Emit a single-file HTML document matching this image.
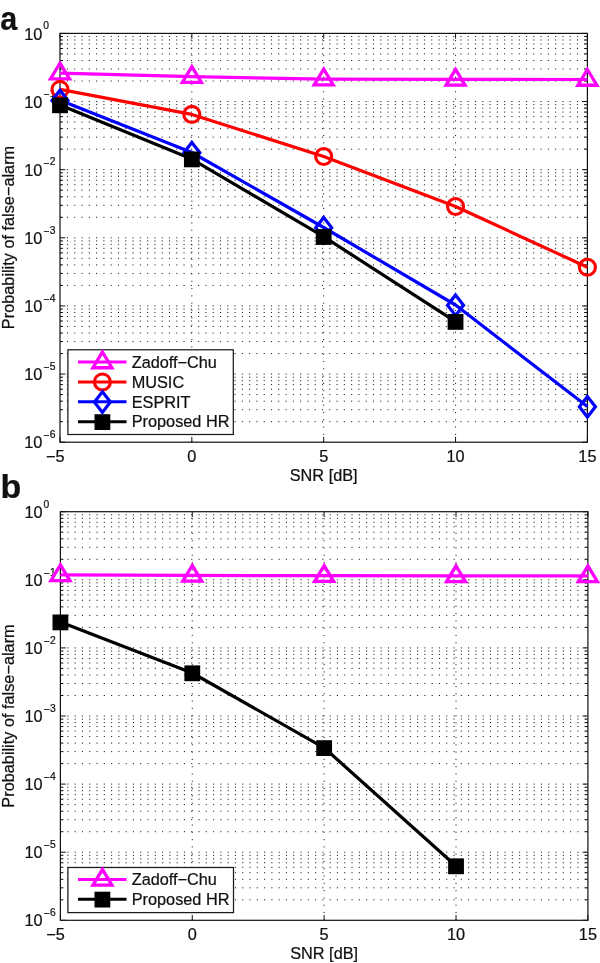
<!DOCTYPE html>
<html><head><meta charset="utf-8"><style>
html,body{margin:0;padding:0;background:#fff;}
svg{display:block;will-change:transform;}
text{font-family:"Liberation Sans", sans-serif;fill:#111;stroke:#111;stroke-width:0.22px;}
</style></head><body>
<svg width="600" height="963" viewBox="0 0 600 963">
<rect width="600" height="963" fill="#fff"/>
<text transform="translate(0.3 29.5) scale(0.9 1)" font-size="34" font-weight="bold">a</text>
<text x="0.5" y="497.8" font-size="34" font-weight="bold">b</text>
<rect x="60" y="33.4" width="527.4" height="408.8" fill="#fff"/>
<g stroke="#1a1a1a" stroke-width="1" stroke-dasharray="1.1 6.186" stroke-dashoffset="0.35"><line x1="60" y1="101.53" x2="587.4" y2="101.53"/>
<line x1="60" y1="81.02" x2="587.4" y2="81.02"/>
<line x1="60" y1="69.03" x2="587.4" y2="69.03"/>
<line x1="60" y1="60.51" x2="587.4" y2="60.51"/>
<line x1="60" y1="53.91" x2="587.4" y2="53.91"/>
<line x1="60" y1="48.52" x2="587.4" y2="48.52"/>
<line x1="60" y1="43.95" x2="587.4" y2="43.95"/>
<line x1="60" y1="40.00" x2="587.4" y2="40.00"/>
<line x1="60" y1="36.52" x2="587.4" y2="36.52"/>
<line x1="60" y1="169.67" x2="587.4" y2="169.67"/>
<line x1="60" y1="149.16" x2="587.4" y2="149.16"/>
<line x1="60" y1="137.16" x2="587.4" y2="137.16"/>
<line x1="60" y1="128.65" x2="587.4" y2="128.65"/>
<line x1="60" y1="122.04" x2="587.4" y2="122.04"/>
<line x1="60" y1="116.65" x2="587.4" y2="116.65"/>
<line x1="60" y1="112.09" x2="587.4" y2="112.09"/>
<line x1="60" y1="108.14" x2="587.4" y2="108.14"/>
<line x1="60" y1="104.65" x2="587.4" y2="104.65"/>
<line x1="60" y1="237.80" x2="587.4" y2="237.80"/>
<line x1="60" y1="217.29" x2="587.4" y2="217.29"/>
<line x1="60" y1="205.29" x2="587.4" y2="205.29"/>
<line x1="60" y1="196.78" x2="587.4" y2="196.78"/>
<line x1="60" y1="190.18" x2="587.4" y2="190.18"/>
<line x1="60" y1="184.78" x2="587.4" y2="184.78"/>
<line x1="60" y1="180.22" x2="587.4" y2="180.22"/>
<line x1="60" y1="176.27" x2="587.4" y2="176.27"/>
<line x1="60" y1="172.78" x2="587.4" y2="172.78"/>
<line x1="60" y1="305.93" x2="587.4" y2="305.93"/>
<line x1="60" y1="285.42" x2="587.4" y2="285.42"/>
<line x1="60" y1="273.43" x2="587.4" y2="273.43"/>
<line x1="60" y1="264.91" x2="587.4" y2="264.91"/>
<line x1="60" y1="258.31" x2="587.4" y2="258.31"/>
<line x1="60" y1="252.92" x2="587.4" y2="252.92"/>
<line x1="60" y1="248.35" x2="587.4" y2="248.35"/>
<line x1="60" y1="244.40" x2="587.4" y2="244.40"/>
<line x1="60" y1="240.92" x2="587.4" y2="240.92"/>
<line x1="60" y1="374.07" x2="587.4" y2="374.07"/>
<line x1="60" y1="353.56" x2="587.4" y2="353.56"/>
<line x1="60" y1="341.56" x2="587.4" y2="341.56"/>
<line x1="60" y1="333.05" x2="587.4" y2="333.05"/>
<line x1="60" y1="326.44" x2="587.4" y2="326.44"/>
<line x1="60" y1="321.05" x2="587.4" y2="321.05"/>
<line x1="60" y1="316.49" x2="587.4" y2="316.49"/>
<line x1="60" y1="312.54" x2="587.4" y2="312.54"/>
<line x1="60" y1="309.05" x2="587.4" y2="309.05"/>
<line x1="60" y1="421.69" x2="587.4" y2="421.69"/>
<line x1="60" y1="409.69" x2="587.4" y2="409.69"/>
<line x1="60" y1="401.18" x2="587.4" y2="401.18"/>
<line x1="60" y1="394.58" x2="587.4" y2="394.58"/>
<line x1="60" y1="389.18" x2="587.4" y2="389.18"/>
<line x1="60" y1="384.62" x2="587.4" y2="384.62"/>
<line x1="60" y1="380.67" x2="587.4" y2="380.67"/>
<line x1="60" y1="377.18" x2="587.4" y2="377.18"/></g>
<g stroke="#1a1a1a" stroke-width="1" stroke-dasharray="1.1 6.19" stroke-dashoffset="0.05"><line x1="191.85" y1="442.2" x2="191.85" y2="33.4"/><line x1="323.70" y1="442.2" x2="323.70" y2="33.4"/><line x1="455.55" y1="442.2" x2="455.55" y2="33.4"/></g>
<path d="M60 33.40h5.3M587.4 33.40h-5.3M60 81.02h3M587.4 81.02h-3M60 69.03h3M587.4 69.03h-3M60 60.51h3M587.4 60.51h-3M60 53.91h3M587.4 53.91h-3M60 48.52h3M587.4 48.52h-3M60 43.95h3M587.4 43.95h-3M60 40.00h3M587.4 40.00h-3M60 36.52h3M587.4 36.52h-3M60 101.53h5.3M587.4 101.53h-5.3M60 149.16h3M587.4 149.16h-3M60 137.16h3M587.4 137.16h-3M60 128.65h3M587.4 128.65h-3M60 122.04h3M587.4 122.04h-3M60 116.65h3M587.4 116.65h-3M60 112.09h3M587.4 112.09h-3M60 108.14h3M587.4 108.14h-3M60 104.65h3M587.4 104.65h-3M60 169.67h5.3M587.4 169.67h-5.3M60 217.29h3M587.4 217.29h-3M60 205.29h3M587.4 205.29h-3M60 196.78h3M587.4 196.78h-3M60 190.18h3M587.4 190.18h-3M60 184.78h3M587.4 184.78h-3M60 180.22h3M587.4 180.22h-3M60 176.27h3M587.4 176.27h-3M60 172.78h3M587.4 172.78h-3M60 237.80h5.3M587.4 237.80h-5.3M60 285.42h3M587.4 285.42h-3M60 273.43h3M587.4 273.43h-3M60 264.91h3M587.4 264.91h-3M60 258.31h3M587.4 258.31h-3M60 252.92h3M587.4 252.92h-3M60 248.35h3M587.4 248.35h-3M60 244.40h3M587.4 244.40h-3M60 240.92h3M587.4 240.92h-3M60 305.93h5.3M587.4 305.93h-5.3M60 353.56h3M587.4 353.56h-3M60 341.56h3M587.4 341.56h-3M60 333.05h3M587.4 333.05h-3M60 326.44h3M587.4 326.44h-3M60 321.05h3M587.4 321.05h-3M60 316.49h3M587.4 316.49h-3M60 312.54h3M587.4 312.54h-3M60 309.05h3M587.4 309.05h-3M60 374.07h5.3M587.4 374.07h-5.3M60 421.69h3M587.4 421.69h-3M60 409.69h3M587.4 409.69h-3M60 401.18h3M587.4 401.18h-3M60 394.58h3M587.4 394.58h-3M60 389.18h3M587.4 389.18h-3M60 384.62h3M587.4 384.62h-3M60 380.67h3M587.4 380.67h-3M60 377.18h3M587.4 377.18h-3M60 442.20h5.3M587.4 442.20h-5.3M60.00 442.2v-5.3M60.00 33.4v5.3M191.85 442.2v-5.3M191.85 33.4v5.3M323.70 442.2v-5.3M323.70 33.4v5.3M455.55 442.2v-5.3M455.55 33.4v5.3M587.40 442.2v-5.3M587.40 33.4v5.3" stroke="#111" stroke-width="1" fill="none"/>
<rect x="60" y="33.4" width="527.4" height="408.8" fill="none" stroke="#111" stroke-width="1.2"/>
<text x="42.3" y="39.50" text-anchor="end" font-size="16.3">10</text>
<text x="43.3" y="29.20" font-size="10.3">0</text>
<text x="42.3" y="107.63" text-anchor="end" font-size="16.3">10</text>
<text x="43.3" y="97.33" font-size="10.3"><tspan dy="1.1">−</tspan><tspan dx="0.5" dy="-1.1">1</tspan></text>
<text x="42.3" y="175.77" text-anchor="end" font-size="16.3">10</text>
<text x="43.3" y="165.47" font-size="10.3"><tspan dy="1.1">−</tspan><tspan dx="0.5" dy="-1.1">2</tspan></text>
<text x="42.3" y="243.90" text-anchor="end" font-size="16.3">10</text>
<text x="43.3" y="233.60" font-size="10.3"><tspan dy="1.1">−</tspan><tspan dx="0.5" dy="-1.1">3</tspan></text>
<text x="42.3" y="312.03" text-anchor="end" font-size="16.3">10</text>
<text x="43.3" y="301.73" font-size="10.3"><tspan dy="1.1">−</tspan><tspan dx="0.5" dy="-1.1">4</tspan></text>
<text x="42.3" y="380.17" text-anchor="end" font-size="16.3">10</text>
<text x="43.3" y="369.87" font-size="10.3"><tspan dy="1.1">−</tspan><tspan dx="0.5" dy="-1.1">5</tspan></text>
<text x="42.3" y="448.30" text-anchor="end" font-size="16.3">10</text>
<text x="43.3" y="438.00" font-size="10.3"><tspan dy="1.1">−</tspan><tspan dx="0.5" dy="-1.1">6</tspan></text>
<text x="55.20" y="461.50" text-anchor="middle" font-size="16.3">−5</text>
<text x="191.85" y="461.50" text-anchor="middle" font-size="16.3">0</text>
<text x="323.70" y="461.50" text-anchor="middle" font-size="16.3">5</text>
<text x="455.55" y="461.50" text-anchor="middle" font-size="16.3">10</text>
<text x="587.40" y="461.50" text-anchor="middle" font-size="16.3">15</text>
<text x="323.70" y="481.00" text-anchor="middle" font-size="16.3">SNR [dB]</text>
<text transform="translate(13.8 237.50) rotate(-90)" text-anchor="middle" font-size="16.3">Probability of false−alarm</text>
<path d="M60.00 73.20 L191.85 76.70 L323.70 79.20 L455.55 79.40 L587.40 79.50" stroke="#ff00ff" stroke-width="3.2" fill="none" stroke-linejoin="round"/>
<path d="M60.00 63.20L69.50 78.95L50.50 78.95Z" fill="none" stroke="#ff00ff" stroke-width="3.3" stroke-linejoin="miter"/>
<path d="M191.85 66.70L201.35 82.45L182.35 82.45Z" fill="none" stroke="#ff00ff" stroke-width="3.3" stroke-linejoin="miter"/>
<path d="M323.70 69.20L333.20 84.95L314.20 84.95Z" fill="none" stroke="#ff00ff" stroke-width="3.3" stroke-linejoin="miter"/>
<path d="M455.55 69.40L465.05 85.15L446.05 85.15Z" fill="none" stroke="#ff00ff" stroke-width="3.3" stroke-linejoin="miter"/>
<path d="M587.40 69.50L596.90 85.25L577.90 85.25Z" fill="none" stroke="#ff00ff" stroke-width="3.3" stroke-linejoin="miter"/>
<path d="M60.00 89.40 L191.85 114.40 L323.70 156.50 L455.55 206.50 L587.40 267.20" stroke="#ff0000" stroke-width="3.2" fill="none" stroke-linejoin="round"/>
<circle cx="60.00" cy="89.40" r="8" fill="none" stroke="#ff0000" stroke-width="3.1"/>
<circle cx="191.85" cy="114.40" r="8" fill="none" stroke="#ff0000" stroke-width="3.1"/>
<circle cx="323.70" cy="156.50" r="8" fill="none" stroke="#ff0000" stroke-width="3.1"/>
<circle cx="455.55" cy="206.50" r="8" fill="none" stroke="#ff0000" stroke-width="3.1"/>
<circle cx="587.40" cy="267.20" r="8" fill="none" stroke="#ff0000" stroke-width="3.1"/>
<path d="M60.00 100.30 L191.85 152.50 L323.70 227.50 L455.55 305.00 L587.40 406.60" stroke="#0000ff" stroke-width="3.2" fill="none" stroke-linejoin="round"/>
<path d="M60.00 90.20L68.00 100.50L60.00 110.80L52.00 100.50Z" fill="none" stroke="#0000ff" stroke-width="3.2" stroke-linejoin="miter"/>
<path d="M191.85 142.40L199.85 152.70L191.85 163.00L183.85 152.70Z" fill="none" stroke="#0000ff" stroke-width="3.2" stroke-linejoin="miter"/>
<path d="M323.70 217.40L331.70 227.70L323.70 238.00L315.70 227.70Z" fill="none" stroke="#0000ff" stroke-width="3.2" stroke-linejoin="miter"/>
<path d="M455.55 294.90L463.55 305.20L455.55 315.50L447.55 305.20Z" fill="none" stroke="#0000ff" stroke-width="3.2" stroke-linejoin="miter"/>
<path d="M587.40 396.50L595.40 406.80L587.40 417.10L579.40 406.80Z" fill="none" stroke="#0000ff" stroke-width="3.2" stroke-linejoin="miter"/>
<path d="M60.00 105.00 L191.85 159.10 L323.70 236.70 L455.55 321.60" stroke="#000000" stroke-width="3.2" fill="none" stroke-linejoin="round"/>
<rect x="52.10" y="97.40" width="15.8" height="15.8" fill="#000000"/>
<rect x="183.95" y="151.50" width="15.8" height="15.8" fill="#000000"/>
<rect x="315.80" y="229.10" width="15.8" height="15.8" fill="#000000"/>
<rect x="447.65" y="314.00" width="15.8" height="15.8" fill="#000000"/>
<rect x="67.9" y="349.8" width="165.4" height="84.69999999999999" fill="#fff" stroke="#1a1a1a" stroke-width="1.25"/>
<path d="M78 362.00H126.5" stroke="#ff00ff" stroke-width="3.0"/>
<path d="M102.40 352.00L111.90 367.75L92.90 367.75Z" fill="none" stroke="#ff00ff" stroke-width="3.3" stroke-linejoin="miter"/>
<text x="131.7" y="367.70" font-size="16.3">Zadoff−Chu</text>
<path d="M78 381.93H126.5" stroke="#ff0000" stroke-width="3.0"/>
<circle cx="102.40" cy="381.93" r="8" fill="none" stroke="#ff0000" stroke-width="3.1"/>
<text x="131.7" y="387.63" font-size="16.3">MUSIC</text>
<path d="M78 401.86H126.5" stroke="#0000ff" stroke-width="3.0"/>
<path d="M102.40 391.76L110.40 402.06L102.40 412.36L94.40 402.06Z" fill="none" stroke="#0000ff" stroke-width="3.2" stroke-linejoin="miter"/>
<text x="131.7" y="407.56" font-size="16.3">ESPRIT</text>
<path d="M78 421.79H126.5" stroke="#000000" stroke-width="3.0"/>
<rect x="94.50" y="414.19" width="15.8" height="15.8" fill="#000000"/>
<text x="131.7" y="427.49" font-size="16.3">Proposed HR</text>
<rect x="60.4" y="511.7" width="527.5" height="408.59999999999997" fill="#fff"/>
<g stroke="#1a1a1a" stroke-width="1" stroke-dasharray="1.1 6.186" stroke-dashoffset="0.35"><line x1="60.4" y1="579.80" x2="587.9" y2="579.80"/>
<line x1="60.4" y1="559.30" x2="587.9" y2="559.30"/>
<line x1="60.4" y1="547.31" x2="587.9" y2="547.31"/>
<line x1="60.4" y1="538.80" x2="587.9" y2="538.80"/>
<line x1="60.4" y1="532.20" x2="587.9" y2="532.20"/>
<line x1="60.4" y1="526.81" x2="587.9" y2="526.81"/>
<line x1="60.4" y1="522.25" x2="587.9" y2="522.25"/>
<line x1="60.4" y1="518.30" x2="587.9" y2="518.30"/>
<line x1="60.4" y1="514.82" x2="587.9" y2="514.82"/>
<line x1="60.4" y1="647.90" x2="587.9" y2="647.90"/>
<line x1="60.4" y1="627.40" x2="587.9" y2="627.40"/>
<line x1="60.4" y1="615.41" x2="587.9" y2="615.41"/>
<line x1="60.4" y1="606.90" x2="587.9" y2="606.90"/>
<line x1="60.4" y1="600.30" x2="587.9" y2="600.30"/>
<line x1="60.4" y1="594.91" x2="587.9" y2="594.91"/>
<line x1="60.4" y1="590.35" x2="587.9" y2="590.35"/>
<line x1="60.4" y1="586.40" x2="587.9" y2="586.40"/>
<line x1="60.4" y1="582.92" x2="587.9" y2="582.92"/>
<line x1="60.4" y1="716.00" x2="587.9" y2="716.00"/>
<line x1="60.4" y1="695.50" x2="587.9" y2="695.50"/>
<line x1="60.4" y1="683.51" x2="587.9" y2="683.51"/>
<line x1="60.4" y1="675.00" x2="587.9" y2="675.00"/>
<line x1="60.4" y1="668.40" x2="587.9" y2="668.40"/>
<line x1="60.4" y1="663.01" x2="587.9" y2="663.01"/>
<line x1="60.4" y1="658.45" x2="587.9" y2="658.45"/>
<line x1="60.4" y1="654.50" x2="587.9" y2="654.50"/>
<line x1="60.4" y1="651.02" x2="587.9" y2="651.02"/>
<line x1="60.4" y1="784.10" x2="587.9" y2="784.10"/>
<line x1="60.4" y1="763.60" x2="587.9" y2="763.60"/>
<line x1="60.4" y1="751.61" x2="587.9" y2="751.61"/>
<line x1="60.4" y1="743.10" x2="587.9" y2="743.10"/>
<line x1="60.4" y1="736.50" x2="587.9" y2="736.50"/>
<line x1="60.4" y1="731.11" x2="587.9" y2="731.11"/>
<line x1="60.4" y1="726.55" x2="587.9" y2="726.55"/>
<line x1="60.4" y1="722.60" x2="587.9" y2="722.60"/>
<line x1="60.4" y1="719.12" x2="587.9" y2="719.12"/>
<line x1="60.4" y1="852.20" x2="587.9" y2="852.20"/>
<line x1="60.4" y1="831.70" x2="587.9" y2="831.70"/>
<line x1="60.4" y1="819.71" x2="587.9" y2="819.71"/>
<line x1="60.4" y1="811.20" x2="587.9" y2="811.20"/>
<line x1="60.4" y1="804.60" x2="587.9" y2="804.60"/>
<line x1="60.4" y1="799.21" x2="587.9" y2="799.21"/>
<line x1="60.4" y1="794.65" x2="587.9" y2="794.65"/>
<line x1="60.4" y1="790.70" x2="587.9" y2="790.70"/>
<line x1="60.4" y1="787.22" x2="587.9" y2="787.22"/>
<line x1="60.4" y1="899.80" x2="587.9" y2="899.80"/>
<line x1="60.4" y1="887.81" x2="587.9" y2="887.81"/>
<line x1="60.4" y1="879.30" x2="587.9" y2="879.30"/>
<line x1="60.4" y1="872.70" x2="587.9" y2="872.70"/>
<line x1="60.4" y1="867.31" x2="587.9" y2="867.31"/>
<line x1="60.4" y1="862.75" x2="587.9" y2="862.75"/>
<line x1="60.4" y1="858.80" x2="587.9" y2="858.80"/>
<line x1="60.4" y1="855.32" x2="587.9" y2="855.32"/></g>
<g stroke="#1a1a1a" stroke-width="1" stroke-dasharray="1.1 6.19" stroke-dashoffset="0.05"><line x1="192.28" y1="920.3" x2="192.28" y2="511.7"/><line x1="324.15" y1="920.3" x2="324.15" y2="511.7"/><line x1="456.02" y1="920.3" x2="456.02" y2="511.7"/></g>
<path d="M60.4 511.70h5.3M587.9 511.70h-5.3M60.4 559.30h3M587.9 559.30h-3M60.4 547.31h3M587.9 547.31h-3M60.4 538.80h3M587.9 538.80h-3M60.4 532.20h3M587.9 532.20h-3M60.4 526.81h3M587.9 526.81h-3M60.4 522.25h3M587.9 522.25h-3M60.4 518.30h3M587.9 518.30h-3M60.4 514.82h3M587.9 514.82h-3M60.4 579.80h5.3M587.9 579.80h-5.3M60.4 627.40h3M587.9 627.40h-3M60.4 615.41h3M587.9 615.41h-3M60.4 606.90h3M587.9 606.90h-3M60.4 600.30h3M587.9 600.30h-3M60.4 594.91h3M587.9 594.91h-3M60.4 590.35h3M587.9 590.35h-3M60.4 586.40h3M587.9 586.40h-3M60.4 582.92h3M587.9 582.92h-3M60.4 647.90h5.3M587.9 647.90h-5.3M60.4 695.50h3M587.9 695.50h-3M60.4 683.51h3M587.9 683.51h-3M60.4 675.00h3M587.9 675.00h-3M60.4 668.40h3M587.9 668.40h-3M60.4 663.01h3M587.9 663.01h-3M60.4 658.45h3M587.9 658.45h-3M60.4 654.50h3M587.9 654.50h-3M60.4 651.02h3M587.9 651.02h-3M60.4 716.00h5.3M587.9 716.00h-5.3M60.4 763.60h3M587.9 763.60h-3M60.4 751.61h3M587.9 751.61h-3M60.4 743.10h3M587.9 743.10h-3M60.4 736.50h3M587.9 736.50h-3M60.4 731.11h3M587.9 731.11h-3M60.4 726.55h3M587.9 726.55h-3M60.4 722.60h3M587.9 722.60h-3M60.4 719.12h3M587.9 719.12h-3M60.4 784.10h5.3M587.9 784.10h-5.3M60.4 831.70h3M587.9 831.70h-3M60.4 819.71h3M587.9 819.71h-3M60.4 811.20h3M587.9 811.20h-3M60.4 804.60h3M587.9 804.60h-3M60.4 799.21h3M587.9 799.21h-3M60.4 794.65h3M587.9 794.65h-3M60.4 790.70h3M587.9 790.70h-3M60.4 787.22h3M587.9 787.22h-3M60.4 852.20h5.3M587.9 852.20h-5.3M60.4 899.80h3M587.9 899.80h-3M60.4 887.81h3M587.9 887.81h-3M60.4 879.30h3M587.9 879.30h-3M60.4 872.70h3M587.9 872.70h-3M60.4 867.31h3M587.9 867.31h-3M60.4 862.75h3M587.9 862.75h-3M60.4 858.80h3M587.9 858.80h-3M60.4 855.32h3M587.9 855.32h-3M60.4 920.30h5.3M587.9 920.30h-5.3M60.40 920.3v-5.3M60.40 511.7v5.3M192.28 920.3v-5.3M192.28 511.7v5.3M324.15 920.3v-5.3M324.15 511.7v5.3M456.02 920.3v-5.3M456.02 511.7v5.3M587.90 920.3v-5.3M587.90 511.7v5.3" stroke="#111" stroke-width="1" fill="none"/>
<rect x="60.4" y="511.7" width="527.5" height="408.59999999999997" fill="none" stroke="#111" stroke-width="1.2"/>
<text x="42.5" y="517.80" text-anchor="end" font-size="16.3">10</text>
<text x="43.5" y="507.50" font-size="10.3">0</text>
<text x="42.5" y="585.90" text-anchor="end" font-size="16.3">10</text>
<text x="43.5" y="575.60" font-size="10.3"><tspan dy="1.1">−</tspan><tspan dx="0.5" dy="-1.1">1</tspan></text>
<text x="42.5" y="654.00" text-anchor="end" font-size="16.3">10</text>
<text x="43.5" y="643.70" font-size="10.3"><tspan dy="1.1">−</tspan><tspan dx="0.5" dy="-1.1">2</tspan></text>
<text x="42.5" y="722.10" text-anchor="end" font-size="16.3">10</text>
<text x="43.5" y="711.80" font-size="10.3"><tspan dy="1.1">−</tspan><tspan dx="0.5" dy="-1.1">3</tspan></text>
<text x="42.5" y="790.20" text-anchor="end" font-size="16.3">10</text>
<text x="43.5" y="779.90" font-size="10.3"><tspan dy="1.1">−</tspan><tspan dx="0.5" dy="-1.1">4</tspan></text>
<text x="42.5" y="858.30" text-anchor="end" font-size="16.3">10</text>
<text x="43.5" y="848.00" font-size="10.3"><tspan dy="1.1">−</tspan><tspan dx="0.5" dy="-1.1">5</tspan></text>
<text x="42.5" y="926.40" text-anchor="end" font-size="16.3">10</text>
<text x="43.5" y="916.10" font-size="10.3"><tspan dy="1.1">−</tspan><tspan dx="0.5" dy="-1.1">6</tspan></text>
<text x="55.60" y="939.60" text-anchor="middle" font-size="16.3">−5</text>
<text x="192.28" y="939.60" text-anchor="middle" font-size="16.3">0</text>
<text x="324.15" y="939.60" text-anchor="middle" font-size="16.3">5</text>
<text x="456.02" y="939.60" text-anchor="middle" font-size="16.3">10</text>
<text x="587.90" y="939.60" text-anchor="middle" font-size="16.3">15</text>
<text x="324.15" y="959.10" text-anchor="middle" font-size="16.3">SNR [dB]</text>
<text transform="translate(13.8 716.00) rotate(-90)" text-anchor="middle" font-size="16.3">Probability of false−alarm</text>
<path d="M60.40 574.90 L192.28 575.40 L324.15 575.70 L456.02 575.80 L587.90 575.90" stroke="#ff00ff" stroke-width="3.2" fill="none" stroke-linejoin="round"/>
<path d="M60.40 564.90L69.90 580.65L50.90 580.65Z" fill="none" stroke="#ff00ff" stroke-width="3.3" stroke-linejoin="miter"/>
<path d="M192.28 565.40L201.78 581.15L182.78 581.15Z" fill="none" stroke="#ff00ff" stroke-width="3.3" stroke-linejoin="miter"/>
<path d="M324.15 565.70L333.65 581.45L314.65 581.45Z" fill="none" stroke="#ff00ff" stroke-width="3.3" stroke-linejoin="miter"/>
<path d="M456.02 565.80L465.52 581.55L446.52 581.55Z" fill="none" stroke="#ff00ff" stroke-width="3.3" stroke-linejoin="miter"/>
<path d="M587.90 565.90L597.40 581.65L578.40 581.65Z" fill="none" stroke="#ff00ff" stroke-width="3.3" stroke-linejoin="miter"/>
<path d="M60.40 622.10 L192.28 673.00 L324.15 747.80 L456.02 866.00" stroke="#000000" stroke-width="3.2" fill="none" stroke-linejoin="round"/>
<rect x="52.50" y="614.50" width="15.8" height="15.8" fill="#000000"/>
<rect x="184.38" y="665.40" width="15.8" height="15.8" fill="#000000"/>
<rect x="316.25" y="740.20" width="15.8" height="15.8" fill="#000000"/>
<rect x="448.12" y="858.40" width="15.8" height="15.8" fill="#000000"/>
<rect x="67.9" y="867.5" width="165.6" height="45.10000000000002" fill="#fff" stroke="#1a1a1a" stroke-width="1.25"/>
<path d="M78 879.40H126.5" stroke="#ff00ff" stroke-width="3.0"/>
<path d="M102.40 869.40L111.90 885.15L92.90 885.15Z" fill="none" stroke="#ff00ff" stroke-width="3.3" stroke-linejoin="miter"/>
<text x="131.7" y="885.10" font-size="16.3">Zadoff−Chu</text>
<path d="M78 899.30H126.5" stroke="#000000" stroke-width="3.0"/>
<rect x="94.50" y="891.70" width="15.8" height="15.8" fill="#000000"/>
<text x="131.7" y="905.00" font-size="16.3">Proposed HR</text>
</svg></body></html>
